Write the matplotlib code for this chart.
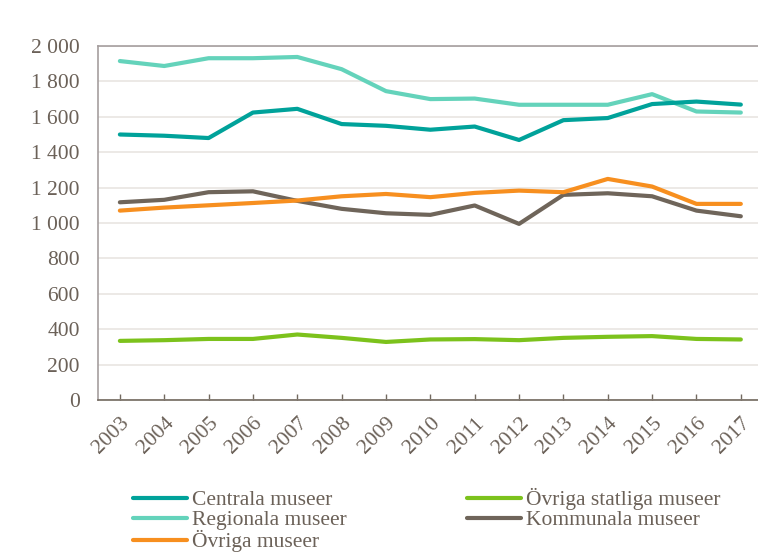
import matplotlib.pyplot as plt
import numpy as np

years = list(range(2003, 2018))

centrala = [1500, 1493, 1480, 1624, 1645, 1559, 1549, 1527, 1545, 1469, 1581, 1593, 1672, 1686, 1669]
regionala = [1915, 1887, 1931, 1931, 1938, 1869, 1745, 1700, 1703, 1668, 1668, 1668, 1728, 1630, 1624]
ovriga_statliga = [334, 338, 345, 345, 370, 351, 328, 342, 344, 338, 351, 357, 361, 345, 342]
kommunala = [1117, 1131, 1174, 1179, 1125, 1080, 1055, 1046, 1099, 995, 1159, 1168, 1151, 1070, 1038]
ovriga = [1070, 1087, 1100, 1113, 1127, 1151, 1164, 1146, 1170, 1183, 1174, 1249, 1206, 1108, 1108]

series = [
    ('Centrala museer', centrala, '#00a29a'),
    ('Regionala museer', regionala, '#64d3bb'),
    ('Övriga museer', ovriga, '#f78f1f'),
    ('Övriga statliga museer', ovriga_statliga, '#7cc21c'),
    ('Kommunala museer', kommunala, '#6f655a'),
]

text_color = '#6b6158'
fs = 15.5
plt.rcParams['font.family'] = ['Liberation Serif', 'DejaVu Serif']

W, H = 758, 555
fig = plt.figure(figsize=(W / 100, H / 100), dpi=100)
left, right, top, bottom = 97.7, 763, 46, 400
ax = fig.add_axes([left / W, 1 - bottom / H, (right - left) / W, (bottom - top) / H])

# draw order: lines later in list sit on top
for name, vals, col in [series[1], series[0], series[3], series[4], series[2]]:
    ax.plot(years, vals, color=col, lw=3, solid_capstyle='round', label=name)

ax.set_xlim(2002.5, 2017.5)
ax.set_ylim(0, 2000)
ax.set_xticks(years)
ax.set_xticklabels([str(y) for y in years], rotation=45, ha='right',
                   rotation_mode='anchor', fontsize=fs, color=text_color)
yt = np.arange(0, 2001, 200)
ax.set_yticks(yt)
ax.set_yticklabels([f'{v:,}'.replace(',', ' ') for v in yt], fontsize=fs, color=text_color)

ax.grid(axis='y', color='#e9e5e2', lw=1.2)
ax.set_axisbelow(True)
ax.tick_params(axis='y', length=0, pad=13)
ax.tick_params(axis='x', length=4, width=1, color='#72695f', pad=10, direction='in')

ax.spines['left'].set_color('#a59e9e')
ax.spines['top'].set_color('#a59e9e')
ax.spines['bottom'].set_color('#72695f')
ax.spines['right'].set_visible(False)
for s in ['left', 'top', 'bottom']:
    ax.spines[s].set_linewidth(1.2)

handles, labels = ax.get_legend_handles_labels()
lookup = dict(zip(labels, handles))
order = [s[0] for s in series]
fig.legend([lookup[n] for n in order], order, ncol=2, frameon=False,
           loc='upper left', bbox_to_anchor=(133 / W, 1 - 488 / H),
           fontsize=fs, labelcolor=text_color, handlelength=2.5,
           handletextpad=0.23, labelspacing=0.0, columnspacing=5.6,
           borderpad=0, borderaxespad=0)

fig.savefig('out.png', dpi=100, facecolor='white')
